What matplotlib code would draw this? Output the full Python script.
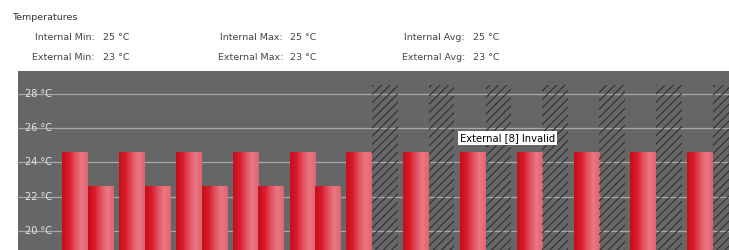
"""Temperature bar panel: internal vs external readings with invalid markers."""

import matplotlib.pyplot as plt
import numpy as np
from matplotlib.colors import LinearSegmentedColormap

# --- data -------------------------------------------------------------------
groups = list(range(12))
internal = [24.6] * 12
external = [22.6, 22.6, 22.6, 22.6, 22.6, None, None, None, None, None, None, None]
invalid_level = 28.5

yticks = [20, 22, 24, 26, 28]
ytick_labels = ["20 °C", "22 °C", "24 °C", "26 °C", "28 °C"]

stat_labels = [
    ["Internal Min:", "Internal Max:", "Internal Avg:"],
    ["External Min:", "External Max:", "External Avg:"],
]
stat_values = [
    ["25 °C", "25 °C", "25 °C"],
    ["23 °C", "23 °C", "23 °C"],
]
invalid_note = "External [8] Invalid"
invalid_note_group = 7

# --- figure -----------------------------------------------------------------
W, H = 729, 250
fig = plt.figure(figsize=(W / 100, H / 100), dpi=100)
fig.patch.set_facecolor("white")
plt.rcParams["font.family"] = ["DejaVu Sans"]

fig.text(12 / W, 1 - 17 / H, "Temperatures", fontsize=6.8, color="#333333",
         va="center", ha="left")
label_right = [95, 283, 465]
value_left = [103, 290, 473]
row_y = [38, 58]
for r in range(2):
    for c in range(3):
        fig.text(label_right[c] / W, 1 - row_y[r] / H, stat_labels[r][c],
                 fontsize=6.8, color="#444444", ha="right", va="center")
        fig.text(value_left[c] / W, 1 - row_y[r] / H, stat_values[r][c],
                 fontsize=6.8, color="#444444", ha="left", va="center")

ax = fig.add_axes([18 / W, 0, (W - 18) / W, (H - 71) / H])
ax.set_facecolor("#666666")
for s in ax.spines.values():
    s.set_visible(False)

width = 0.45
x = np.array(groups, dtype=float)
ax.set_xlim(-1.232, 11.285)
ax.set_ylim(18.89, 29.34)

for yv in yticks:
    ax.axhline(yv, color="#a8a8a8", linewidth=0.9, zorder=1)
for yv, lab in zip(yticks, ytick_labels):
    ax.text(0.01, yv, lab, transform=ax.get_yaxis_transform(), fontsize=7,
            color="#e8e8e8", va="center", ha="left", zorder=5)
ax.set_xticks([])
ax.set_yticks([])

grad = LinearSegmentedColormap.from_list(
    "bar", ["#c40f1c", "#d81a2a", "#e2505e", "#ea7884", "#e06470"])
gimg = np.linspace(0, 1, 64).reshape(1, -1)

ybot = ax.get_ylim()[0]


def grad_bars(xs, heights):
    bars = ax.bar(xs, np.array(heights) - ybot, width=width, bottom=ybot,
                  color="#d82030", linewidth=0, zorder=2)
    for b in bars:
        im = ax.imshow(gimg, cmap=grad, aspect="auto", zorder=3,
                       extent=(b.get_x(), b.get_x() + b.get_width(),
                               b.get_y(), b.get_y() + b.get_height()))
        im.set_clip_path(b)
    return bars


grad_bars(x - width / 2, internal)

valid = [i for i, v in enumerate(external) if v is not None]
invalid = [i for i, v in enumerate(external) if v is None]
grad_bars(x[valid] + width / 2, [external[i] for i in valid])

plt.rcParams["hatch.color"] = "#303030"
plt.rcParams["hatch.linewidth"] = 0.8
ax.bar(x[invalid] + width / 2, invalid_level - ybot, width=width, bottom=ybot,
       facecolor="none", edgecolor="#303030", hatch="////", linewidth=0,
       zorder=4)

ax.set_xlim(-1.232, 11.285)
ax.set_ylim(18.89, 29.34)

ax.text(invalid_note_group - width, 25.43, invalid_note, fontsize=7.2,
        color="black", ha="left", va="center", zorder=6,
        bbox=dict(boxstyle="square,pad=0.2", facecolor="white",
                  edgecolor="none"))

fig.savefig("out.png", dpi=100)
